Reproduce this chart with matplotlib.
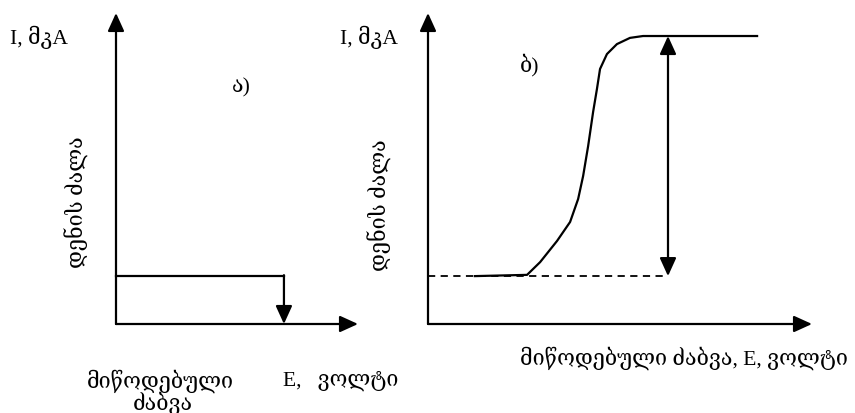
import matplotlib
matplotlib.use("Agg")
import matplotlib.pyplot as plt

FONT = ['Liberation Serif', 'DejaVu Serif', 'DejaVu Sans']

# panel a: constant current rectangle
a_level = 15.4
a_voltage = 69.4

# panel b: current vs applied voltage curve
b_E = [12.2, 25.8, 29.2, 33.6, 37.0, 39.1, 40.4, 41.7, 43.0, 44.0, 44.8, 46.6,
       49.2, 52.6, 56.0, 85.7]
b_I = [15.4, 15.8, 19.9, 26.7, 32.8, 40.2, 47.6, 57.2, 68.2, 75.6, 82.0, 86.8,
       90.0, 92.0, 92.6, 92.6]
b_arrow_E = 62.5

ylabel = "დენის ძალა"
unit_label = "I, მკA"

W, H = 855, 414
fig = plt.figure(figsize=(W / 100, H / 100), dpi=100)

HEAD = 'head_length=1.1,head_width=0.5'


def panel(x0, x1, y0, y1):
    ax = fig.add_axes([x0 / W, 1 - y0 / H, (x1 - x0) / W, (y0 - y1) / H])
    ax.set_xlim(0, 100)
    ax.set_ylim(0, 100)
    ax.axis('off')
    # axis arrows
    ax.annotate('', xy=(0, 1), xytext=(0, 0), xycoords='axes fraction',
                arrowprops=dict(arrowstyle='-|>,' + HEAD,
                                color='black', lw=1.6, shrinkA=0, shrinkB=0))
    ax.annotate('', xy=(1, 0), xytext=(0, 0), xycoords='axes fraction',
                arrowprops=dict(arrowstyle='-|>,' + HEAD,
                                color='black', lw=1.6, shrinkA=0, shrinkB=0))
    return ax


# left panel
axa = panel(116, 358, 325, 14)
axa.plot([0, a_voltage], [a_level, a_level], color='black', lw=1.6, clip_on=False)
axa.annotate('', xy=(a_voltage, 0), xytext=(a_voltage, a_level + 0.3),
             arrowprops=dict(arrowstyle='-|>,' + HEAD,
                             color='black', lw=1.6, shrinkA=0, shrinkB=0))

# right panel
axb = panel(428, 812, 325, 14)
axb.plot([0, b_arrow_E], [b_I[0], b_I[0]], color='black', lw=1.3,
         linestyle=(0, (4, 3)), clip_on=False)
axb.plot(b_E, b_I, color='black', lw=1.6, clip_on=False)
axb.annotate('', xy=(b_arrow_E, b_I[-1]), xytext=(b_arrow_E, b_I[0]),
             arrowprops=dict(arrowstyle='<|-|>,' + HEAD,
                             color='black', lw=1.6, shrinkA=0, shrinkB=0))

# texts
kw = dict(family=FONT, fontsize=15.5, color='black')
fig.text(10 / W, 1 - 37 / H, unit_label, va='center', ha='left', **kw)
fig.text(340 / W, 1 - 37 / H, unit_label, va='center', ha='left', **kw)
fig.text(241 / W, 1 - 88 / H, "ა)", va='center', ha='center', **kw)
fig.text(530 / W, 1 - 65 / H, "ბ)", va='center', ha='center', **kw)
fig.text(77 / W, 1 - 202 / H, ylabel, va='center', ha='center', rotation=90, **kw)
fig.text(380 / W, 1 - 205 / H, ylabel, va='center', ha='center', rotation=90, **kw)
fig.text(160 / W, 1 - 381 / H, "მიწოდებული", va='center', ha='center', **kw)
fig.text(163 / W, 1 - 403 / H, "ძაბვა", va='center', ha='center', **kw)
fig.text(283 / W, 1 - 381 / H, "E,   ვოლტი", va='center', ha='left', **kw)
fig.text(684 / W, 1 - 358 / H, "მიწოდებული ძაბვა, E, ვოლტი", va='center', ha='center', **kw)

fig.savefig("out.png", dpi=100)
